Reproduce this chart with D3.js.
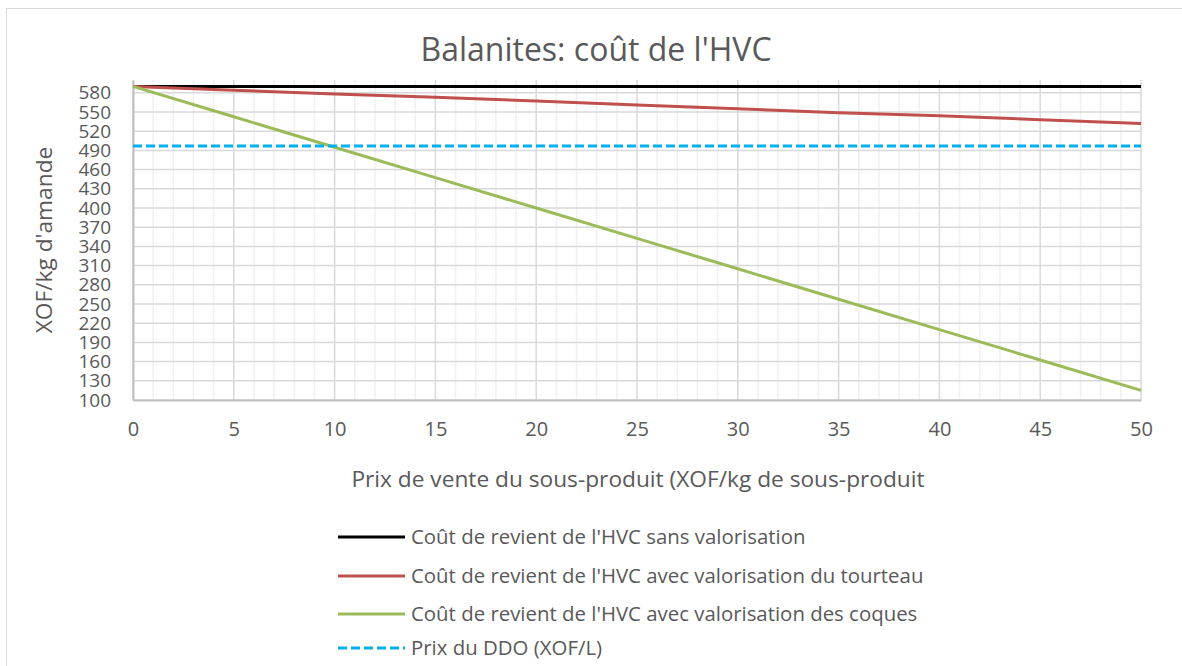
<!DOCTYPE html>
<html>
<head>
<meta charset="utf-8">
<script src="https://cdn.jsdelivr.net/npm/d3@7"></script>
<style>
  html, body { margin: 0; padding: 0; background: #fff; }
  svg text { font-family: "Open Sans", "Noto Sans", sans-serif; fill: #595959; }
</style>
</head>
<body>
<svg id="chart" width="1182" height="666"></svg>
<script>
// Selling price of the by-product (XOF/kg)
const prix = [0, 5, 10, 15, 20, 25, 30, 35, 40, 45, 50];
// Cost price of HVC without by-product sale
const sansValorisation = [590, 590, 590, 590, 590, 590, 590, 590, 590, 590, 590];
// Cost price when press cake is sold
const valoTourteau = [590, 584, 578, 573, 567, 561, 555, 549, 544, 538, 532];
// Cost price when shells are sold
const valoCoques = [590, 542.5, 495, 447.5, 400, 352.5, 305, 257.5, 210, 162.5, 115];
// Diesel (DDO) price, XOF/L
const prixDDO = [497, 497, 497, 497, 497, 497, 497, 497, 497, 497, 497];

const seriesNames = [
  "Coût de revient de l'HVC sans valorisation",
  "Coût de revient de l'HVC avec valorisation du tourteau",
  "Coût de revient de l'HVC avec valorisation des coques",
  "Prix du DDO (XOF/L)"
];
const xTicks = [0, 5, 10, 15, 20, 25, 30, 35, 40, 45, 50];
const yTicks = [100, 130, 160, 190, 220, 250, 280, 310, 340, 370, 400, 430, 460, 490, 520, 550, 580];

const series = [
  { name: seriesNames[0], values: sansValorisation, color: "#000000", dash: null },
  { name: seriesNames[1], values: valoTourteau, color: "#c0504d", dash: null },
  { name: seriesNames[2], values: valoCoques, color: "#9bbb59", dash: null },
  { name: seriesNames[3], values: prixDDO, color: "#00b0f0", dash: "9,4" }
];

const svg = d3.select("#chart");

// chart area frame
svg.append("rect")
  .attr("x", 6.5).attr("y", 8.5)
  .attr("width", 1200).attr("height", 700)
  .attr("fill", "#fff").attr("stroke", "#d9d9d9").attr("stroke-width", 1);

const plot = { left: 133, right: 1141, top: 80, bottom: 400 };

const x = d3.scaleLinear().domain([0, 50]).range([plot.left, plot.right]);
const y = d3.scaleLinear().domain([100, 600]).range([plot.bottom, plot.top]);

const g = svg.append("g");

// minor vertical grid, every unit
g.append("g")
  .selectAll("line")
  .data(d3.range(0, 51).filter(v => v % 5 !== 0))
  .join("line")
  .attr("x1", d => x(d)).attr("x2", d => x(d))
  .attr("y1", plot.top).attr("y2", plot.bottom)
  .attr("stroke", "#f0f0f0").attr("stroke-width", 1.5);

// major vertical grid
g.append("g")
  .selectAll("line")
  .data(xTicks)
  .join("line")
  .attr("x1", d => x(d)).attr("x2", d => x(d))
  .attr("y1", plot.top).attr("y2", plot.bottom)
  .attr("stroke", "#d9d9d9").attr("stroke-width", 1.5);

// horizontal grid
g.append("g")
  .selectAll("line")
  .data(yTicks)
  .join("line")
  .attr("x1", plot.left).attr("x2", plot.right)
  .attr("y1", d => y(d)).attr("y2", d => y(d))
  .attr("stroke", "#d9d9d9").attr("stroke-width", 1.5);

// axes
const xAxis = d3.axisBottom(x).tickValues(xTicks).tickSize(0).tickPadding(22);
const gx = svg.append("g").attr("transform", `translate(0,${plot.bottom})`).call(xAxis);
gx.select(".domain").attr("stroke", "#bfbfbf").attr("stroke-width", 2);
gx.selectAll("text").style("font-size", "20px").attr("fill", "#595959");

const yAxis = d3.axisLeft(y).tickValues(yTicks).tickSize(0).tickPadding(22);
const gy = svg.append("g").attr("transform", `translate(${plot.left},0)`).call(yAxis);
gy.select(".domain").attr("stroke", "#bfbfbf").attr("stroke-width", 2);
gy.selectAll("text").style("font-size", "19px").attr("fill", "#595959");

// lines
const line = d3.line().x((d, i) => x(prix[i])).y(d => y(d));
svg.append("g")
  .selectAll("path")
  .data(series)
  .join("path")
  .attr("d", d => line(d.values))
  .attr("fill", "none")
  .attr("stroke", d => d.color)
  .attr("stroke-width", 3)
  .attr("stroke-dasharray", d => d.dash);

// title
svg.append("text")
  .attr("x", 596).attr("y", 61)
  .attr("text-anchor", "middle")
  .style("font-size", "32px")
  .text("Balanites: coût de l'HVC");

// axis titles
svg.append("text")
  .attr("x", 638).attr("y", 487)
  .attr("text-anchor", "middle")
  .style("font-size", "22.7px")
  .text("Prix de vente du sous-produit (XOF/kg de sous-produit");

svg.append("text")
  .attr("transform", "translate(52,240) rotate(-90)")
  .attr("text-anchor", "middle")
  .style("font-size", "22.7px")
  .text("XOF/kg d'amande");

// legend
const legendRows = [537, 576, 614, 648];
const lg = svg.append("g")
  .selectAll("g")
  .data(series)
  .join("g")
  .attr("transform", (d, i) => `translate(338,${legendRows[i]})`);
lg.append("line")
  .attr("x1", 0).attr("x2", 67)
  .attr("stroke", d => d.color)
  .attr("stroke-width", 3)
  .attr("stroke-dasharray", d => d.dash);
lg.append("text")
  .attr("x", 73).attr("dy", "0.35em")
  .style("font-size", "20.4px")
  .text(d => d.name);
</script>
</body>
</html>
